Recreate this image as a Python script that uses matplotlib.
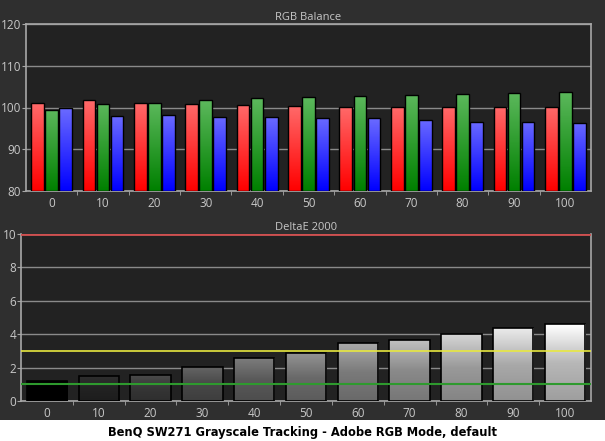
import numpy as np
import matplotlib
matplotlib.use("Agg")
import matplotlib.pyplot as plt
from matplotlib.patches import Rectangle
from matplotlib.colors import LinearSegmentedColormap

levels = [0, 10, 20, 30, 40, 50, 60, 70, 80, 90, 100]
red_vals = [101.1, 101.7, 101.1, 100.9, 100.7, 100.4, 100.15, 100.15, 100.15, 100.15, 100.15]
green_vals = [99.5, 100.9, 101.1, 101.7, 102.2, 102.4, 102.8, 103.0, 103.3, 103.5, 103.8]
blue_vals = [99.8, 97.9, 98.1, 97.8, 97.7, 97.6, 97.4, 97.1, 96.6, 96.6, 96.4]
delta_e = [1.18, 1.49, 1.55, 2.03, 2.57, 2.87, 3.47, 3.65, 4.0, 4.36, 4.6]
rgb_ticks = [80, 90, 100, 110, 120]
de_ticks = [0, 2, 4, 6, 8, 10]
de_limit_red = 10
de_limit_yellow = 3
de_limit_green = 1
title = "BenQ SW271 Grayscale Tracking - Adobe RGB Mode, default"

FIG_BG = "#2f2f2f"
AX_BG = "#222222"
GRID = "#8a8a8a"
SPINE = "#a8a8a8"
TXT = "#c8c8c8"

fig = plt.figure(figsize=(6.05, 4.41), dpi=100, facecolor="white")
fig.patches.append(Rectangle((0, 21/441), 1, 1 - 21/441, transform=fig.transFigure,
                             facecolor=FIG_BG, edgecolor="none", zorder=-10))

ax1 = fig.add_axes([26/605, 1 - 191/441, (591 - 26)/605, (191 - 24)/441])
ax2 = fig.add_axes([21/605, 1 - 401/441, (591 - 21)/605, (401 - 234)/441])


def gradient_fill(ax, bars, top_col, bot_col, mid_col=None):
    for b in bars:
        x, y = b.get_x(), b.get_y()
        w, h = b.get_width(), b.get_height()
        cols = [bot_col, mid_col, top_col] if mid_col is not None else [bot_col, top_col]
        cmap = LinearSegmentedColormap.from_list("g", cols)
        grad = np.linspace(0, 1, 64).reshape(-1, 1)
        im = ax.imshow(grad, extent=(x, x + w, y, y + h), origin="lower",
                       aspect="auto", cmap=cmap, zorder=b.get_zorder() - 0.1,
                       interpolation="bicubic")
        im.set_clip_path(b)
        b.set_facecolor("none")


def style_axes(ax, yt, ylim):
    ax.set_facecolor(AX_BG)
    ax.set_xlim(-0.5, len(levels) - 0.5)
    ax.set_ylim(*ylim)
    ax.set_yticks(yt)
    ax.set_xticks(np.arange(len(levels)))
    ax.set_xticklabels([str(l) for l in levels])
    ax.set_xticks(np.arange(len(levels) - 1) + 0.5, minor=True)
    ax.tick_params(axis="x", which="major", length=0, colors=TXT, labelsize=8.5, pad=4)
    ax.tick_params(axis="x", which="minor", length=3, color=SPINE, direction="out")
    ax.tick_params(axis="y", length=3, color=SPINE, colors=TXT, labelsize=8.5, pad=0.5)
    for lab in ax.get_yticklabels():
        lab.set_family(["Open Sans", "DejaVu Sans"])
    for lab in ax.get_xticklabels():
        lab.set_family(["Open Sans", "DejaVu Sans"])
    for s in ax.spines.values():
        s.set_color(SPINE)
        s.set_linewidth(1.2)
    ax.yaxis.grid(True, color=GRID, linewidth=1)
    ax.set_axisbelow(True)


# RGB Balance
x = np.arange(len(levels))
bw = 0.247
step = 0.273
style_axes(ax1, rgb_ticks, (80, 120))
base = 80
br = ax1.bar(x - step, np.array(red_vals) - base, bw, bottom=base, edgecolor="black", linewidth=1, zorder=3)
bg = ax1.bar(x, np.array(green_vals) - base, bw, bottom=base, edgecolor="black", linewidth=1, zorder=3)
bb = ax1.bar(x + step, np.array(blue_vals) - base, bw, bottom=base, edgecolor="black", linewidth=1, zorder=3)
gradient_fill(ax1, br, "#ff6a6a", "#ff0000")
gradient_fill(ax1, bg, "#5cb85c", "#008000")
gradient_fill(ax1, bb, "#6a6aff", "#0000ff")
ax1.set_xlim(-0.5, len(levels) - 0.5)
ax1.set_ylim(80, 120)
ax1.set_title("RGB Balance", color=TXT, fontsize=8, pad=3, family=["Open Sans", "DejaVu Sans"])

# DeltaE 2000
style_axes(ax2, de_ticks, (0, 10))
bd = ax2.bar(x, delta_e, 0.78, edgecolor="black", linewidth=1.2, zorder=3)
for lvl, b in zip(levels, bd):
    t = (lvl / 100) ** 0.85
    top = np.array([t, t, t]) * 0.95 + 0.05 * (lvl > 0)
    top = np.clip(top, 0, 1)
    mid = top * 0.72
    bot = top * 0.62
    gradient_fill(ax2, [b], tuple(top), tuple(bot), tuple(mid))
ax2.axhline(de_limit_red, color="#d05050", linewidth=2, zorder=5)
ax2.axhline(de_limit_yellow, color="#e8e840", linewidth=1.2, zorder=5)
ax2.axhline(de_limit_green, color="#2e9a2e", linewidth=1.5, zorder=5)
ax2.spines["top"].set_visible(False)
ax2.set_xlim(-0.5, len(levels) - 0.5)
ax2.set_ylim(0, 10)
ax2.set_title("DeltaE 2000", color=TXT, fontsize=8, pad=3, family=["Open Sans", "DejaVu Sans"])

fig.text(0.5, 8.5/441, title, ha="center", va="center", fontsize=8.3,
         fontweight="bold", color="black", family=["DejaVu Sans"])

fig.savefig("out.png", dpi=100, facecolor=fig.get_facecolor())
